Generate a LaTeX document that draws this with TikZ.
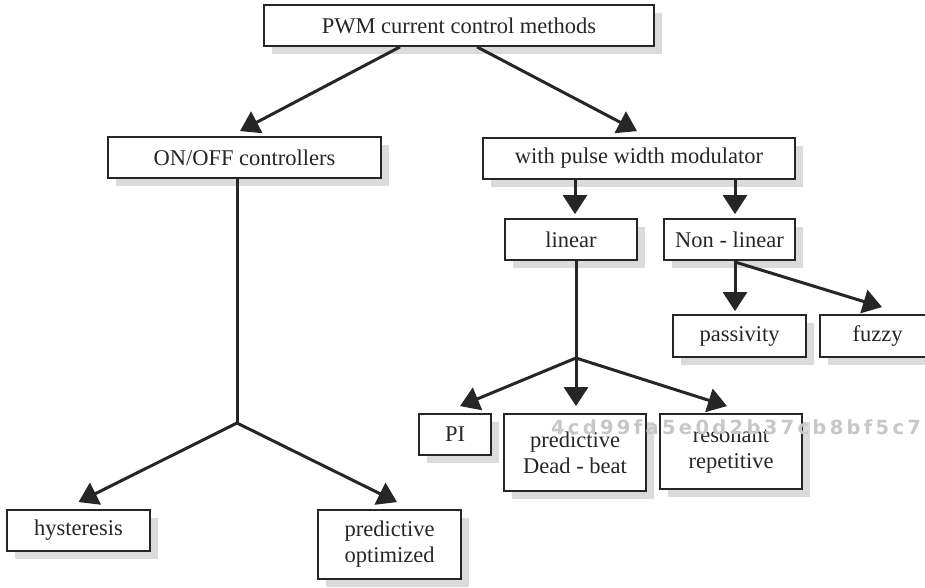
\documentclass[tikz,border=0pt]{standalone}
\usepackage{fontspec}
\setmainfont{Liberation Serif}
\newfontfamily\boxfont{Liberation Serif}
\newfontfamily\wmfont[LetterSpace=17]{DejaVu Sans}
\usetikzlibrary{arrows.meta,shadows,calc}
\begin{document}
\begin{tikzpicture}[x=1pt,y=-1pt,
  box/.style={draw=black!85, line width=1.8pt, fill=white, inner sep=0pt, align=center,
    font=\boxfont\fontsize{22.5}{26}\selectfont, text=black!85,
    drop shadow={shadow xshift=8pt, shadow yshift=-8pt, fill=black!14, opacity=1}},
  arr/.style={line width=3pt, draw=black!85, -{Triangle[length=19pt,width=24pt]}},
  ln/.style={line width=3pt, draw=black!85},
  wm/.style={text=black!22, font=\wmfont\bfseries\fontsize{19.5}{21}\selectfont, inner sep=0pt}]
\useasboundingbox (0,0) rectangle (925,587);
\clip (0,0) rectangle (925,587);

\node[box, minimum width=390pt, minimum height=41pt] (top) at (459,25.5) {PWM current control methods};
\node[box, minimum width=273pt, minimum height=41pt] (onoff) at (244.5,157.5) {ON/OFF controllers};
\node[box, minimum width=312pt, minimum height=41pt] (pwm) at (639,158.5) {with pulse width modulator};
\node[box, minimum width=132pt, minimum height=41pt] (linear) at (571,239.5) {linear};
\node[box, minimum width=131pt, minimum height=41pt] (nonlin) at (729.5,239.5) {Non - linear};
\node[box, minimum width=133pt, minimum height=42pt] (pass) at (739.5,336) {passivity};
\node[box, minimum width=115pt, minimum height=42pt] (fuzzy) at (877.5,336) {fuzzy};
\node[box, minimum width=72pt, minimum height=41pt] (pi) at (455,434.5) {PI};
\node[box, minimum width=142pt, minimum height=77pt] (dead) at (575,452.5) {predictive\\Dead - beat};
\node[box, minimum width=142pt, minimum height=75pt] (reso) at (731,451.5) {resonant\\repetitive};
\node[box, minimum width=143pt, minimum height=41pt] (hyst) at (78.5,530.5) {hysteresis};
\node[box, minimum width=143pt, minimum height=69pt] (predopt) at (389.5,544.5) {predictive\\optimized};

\coordinate (b1) at (237,423);
\coordinate (b2) at (576,358);
\coordinate (b3) at (735,262);

% top level
\draw[arr] ([xshift=-59pt]top.south) -- ([xshift=-4.5pt,yshift=5pt]onoff.north);
\draw[arr] ([xshift=18pt]top.south) -- ([xshift=-2pt,yshift=6pt]pwm.north);

% ON/OFF branch
\draw[ln] ([xshift=-7.5pt]onoff.south) -- (b1);
\draw[arr] (b1) -- ([yshift=7pt]hyst.north);
\draw[arr] (b1) -- ([xshift=7.5pt,yshift=7pt]predopt.north);

% PWM branch
\draw[arr] ([xshift=-64pt]pwm.south) -- ([xshift=4pt,yshift=4pt]linear.north);
\draw[arr] ([xshift=96pt]pwm.south) -- ([xshift=5.5pt,yshift=4pt]nonlin.north);

% linear branch
\draw[ln] ([xshift=5pt]linear.south) -- (b2);
\draw[arr] (b2) -- ([xshift=5pt,yshift=7pt]pi.north);
\draw[arr] (b2) -- ([xshift=1pt,yshift=7pt]dead.north);
\draw[arr] (b2) -- ([xshift=-4pt,yshift=7pt]reso.north);

% non-linear branch
\draw[ln] ([xshift=5.5pt]nonlin.south) -- (b3);
\draw[arr] (b3) -- ([xshift=-4.5pt,yshift=3pt]pass.north);
\draw[arr] (b3) -- ([xshift=4.5pt,yshift=7pt]fuzzy.north);

\node[wm] (mark) at (736,427) {4cd99fa5e0d2b37cb8bf5c7};
\end{tikzpicture}
\end{document}
